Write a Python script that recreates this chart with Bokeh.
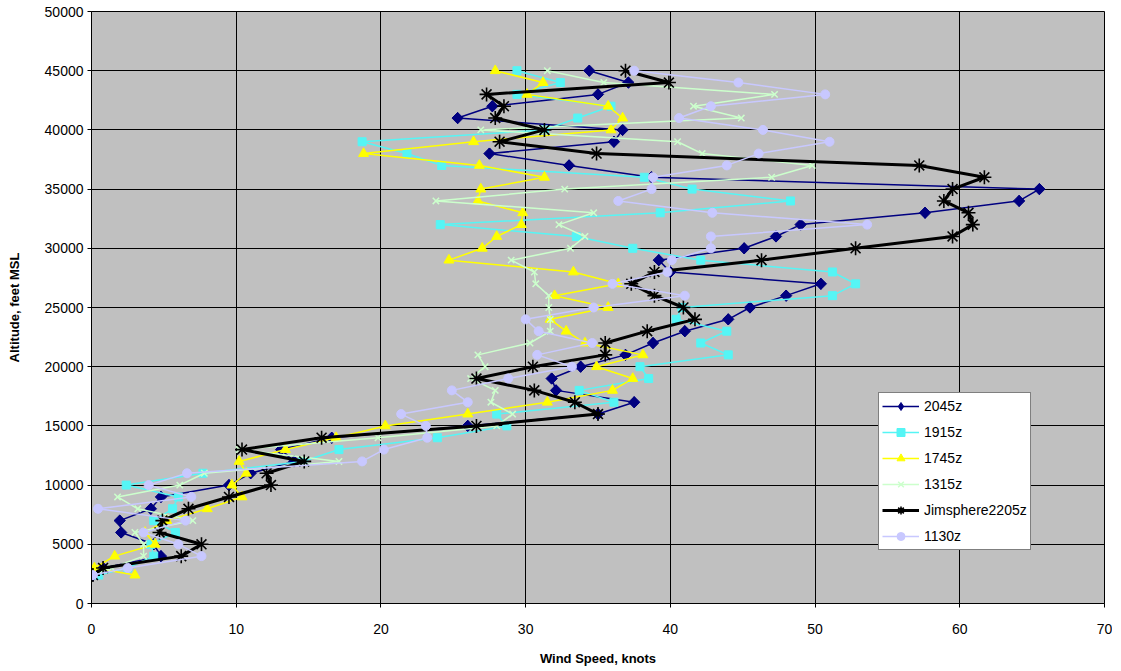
import math
from bokeh.plotting import figure
from bokeh.models import Legend, LegendItem, FixedTicker, ColumnDataSource
from bokeh.embed import file_html
from bokeh.resources import INLINE

altitude = [45000, 44000, 43000, 42000, 41000, 40000, 39000, 38000, 37000, 36000,
            35000, 34000, 33000, 32000, 31000, 30000, 29000, 28000, 27000, 26000,
            25000, 24000, 23000, 22000, 21000, 20000, 19000, 18000, 17000, 16000,
            15000, 14000, 13000, 12000, 11000, 10000, 9000, 8000, 7000, 6000,
            5000, 4000, 3000, 2400]

s2045z = [34.4, 37.1, 35.0, 27.7, 25.3, 36.7, 36.1, 27.5, 33.0, 38.7,
          65.5, 64.1, 57.6, 49.0, 47.3, 45.1, 39.2, 40.0, 50.4, 48.0,
          45.5, 44.0, 41.0, 38.8, 36.9, 33.8, 31.8, 32.1, 37.5, 35.0,
          26.0, 16.6, 13.1, 14.0, 11.0, 9.5, 4.8, 4.1, 1.95, 2.05,
          4.3, 4.8, 0.8, 0.1]
s1915z = [29.4, 32.4, 29.4, 35.9, 33.6, 31.3, 18.7, 21.8, 24.2, 38.2,
          41.5, 48.3, 39.3, 24.1, 33.5, 37.4, 42.1, 51.2, 52.8, 51.2,
          40.8, 40.4, 43.9, 42.1, 44.0, 37.9, 38.5, 33.7, 36.1, 28.0,
          28.7, 23.9, 17.1, 14.6, 7.7, 2.4, 6.0, 5.6, 4.3, 5.8,
          4.1, 4.3, 2.5, 0.5]
s1745z = [27.9, 31.2, 30.1, 35.7, 36.7, 35.9, 26.4, 18.8, 26.8, 31.3,
          26.9, 26.7, 29.8, 29.7, 28.0, 27.0, 24.7, 33.3, 36.4, 32.0,
          35.7, 31.7, 32.8, 34.1, 38.1, 34.9, 37.4, 36.0, 31.5, 26.0,
          20.3, 16.9, 13.4, 10.2, 10.7, 9.7, 10.4, 8.0, 5.2, 3.7,
          4.4, 1.6, 0.2, 3.0]
s1315z = [31.5, 35.4, 47.2, 41.6, 44.9, 26.9, 40.5, 42.2, 49.8, 47.0,
          32.7, 23.8, 34.7, 32.3, 34.1, 33.1, 29.0, 30.6, 30.7, 31.6,
          31.6, 31.7, 31.7, 30.3, 26.7, 27.2, 26.2, 27.9, 27.6, 29.1,
          28.0, 19.8, 10.2, 17.1, 7.8, 6.1, 1.8, 3.2, 7.0, 3.0,
          3.6, 3.6, 1.4, 0.1]
jimsphere2205z = [36.9, 39.9, 27.3, 28.5, 27.9, 31.3, 28.2, 34.9, 57.2, 61.7,
                  59.5, 58.9, 60.6, 60.9, 59.5, 52.8, 46.3, 38.9, 37.3, 38.9,
                  40.9, 41.7, 38.4, 35.5, 35.5, 30.5, 26.6, 30.6, 33.4, 35.0,
                  26.6, 15.9, 10.4, 14.7, 12.1, 12.4, 9.5, 6.7, 4.9, 4.7,
                  7.6, 6.2, 0.8, 0.1]
s1130z = [37.5, 44.7, 50.7, 42.8, 40.6, 46.4, 51.0, 46.1, 43.9, 38.8,
          38.7, 36.4, 42.9, 53.6, 42.8, 42.8, 40.1, 39.8, 36.0, 41.0,
          34.7, 30.0, 30.9, 34.6, 30.8, 33.2, 28.8, 24.9, 26.0, 21.4,
          23.1, 23.2, 20.2, 18.7, 6.6, 3.95, 6.9, 0.45, 6.5, 3.6,
          6.0, 7.6, 2.5, 0.1]

series_names = ["2045z", "1915z", "1745z", "1315z", "Jimsphere2205z", "1130z"]
series_values = [s2045z, s1915z, s1745z, s1315z, jimsphere2205z, s1130z]
x_ticks = [0, 10, 20, 30, 40, 50, 60, 70]
y_ticks = [0, 5000, 10000, 15000, 20000, 25000, 30000, 35000, 40000, 45000, 50000]

styles = [
    dict(color="#000080", marker="square", size=8, lw=1.5, fill=True, angle=math.pi / 4, mlw=1,
         legend_marker="diamond", legend_size=11),
    dict(color="#55F5F5", marker="square", size=8, lw=1.5, fill=True, angle=0, mlw=1),
    dict(color="#FFFF00", marker="triangle", size=10, lw=1.5, fill=True, angle=0, mlw=1),
    dict(color="#CCFFCC", marker="x", size=9, lw=1.5, fill=False, angle=0, mlw=1.5),
    dict(color="#000000", marker="asterisk", size=14, lw=3, fill=False, angle=0, mlw=1.6),
    dict(color="#C8C8FF", marker="circle", size=9, lw=1.5, fill=True, angle=0, mlw=1),
]

FONT = "Liberation Sans"

p = figure(width=1112, height=669, output_backend="svg", toolbar_location=None,
           x_range=(0, 70), y_range=(0, 50000),
           min_border_left=91, min_border_right=8, min_border_top=11, min_border_bottom=66)

p.background_fill_color = "#C0C0C0"
p.border_fill_color = "white"
p.outline_line_color = "#000000"
p.outline_line_width = 1

p.xgrid.grid_line_color = "black"
p.ygrid.grid_line_color = "black"
p.xgrid.grid_line_width = 1
p.ygrid.grid_line_width = 1

for ax in (p.xaxis[0], p.yaxis[0]):
    ax.major_label_text_font = FONT
    ax.major_label_text_font_size = "14px"
    ax.major_label_text_color = "black"
    ax.axis_label_text_font = FONT
    ax.axis_label_text_font_size = "13px"
    ax.axis_label_text_font_style = "bold"
    ax.axis_label_text_color = "black"
    ax.axis_line_color = "black"
    ax.major_tick_line_color = "black"
    ax.major_tick_out = 4
    ax.major_tick_in = 0
    ax.minor_tick_line_color = None

p.xaxis.ticker = FixedTicker(ticks=x_ticks)
p.yaxis.ticker = FixedTicker(ticks=y_ticks)
p.xaxis.axis_label = "Wind Speed, knots"
p.yaxis.axis_label = "Altitude, feet MSL"
p.xaxis.major_label_standoff = 16
p.xaxis.axis_label_standoff = 14
p.yaxis.major_label_standoff = 4
p.yaxis.axis_label_standoff = 20

items = []
for name, vals, st in zip(series_names, series_values, styles):
    src = ColumnDataSource(dict(x=vals, y=altitude))
    r1 = p.line("x", "y", source=src, line_color=st["color"], line_width=st["lw"])
    legend_renderers = [r1]
    if "legend_marker" in st:
        # upright diamond drawn beneath the rotated squares; used as the legend swatch
        r_leg = p.scatter("x", "y", source=src, marker=st["legend_marker"],
                          size=st["legend_size"], fill_color=st["color"],
                          line_color=st["color"])
        legend_renderers.append(r_leg)
    if st["fill"]:
        r2 = p.scatter("x", "y", source=src, marker=st["marker"], size=st["size"],
                       angle=st["angle"], fill_color=st["color"], line_color=st["color"],
                       line_width=st["mlw"])
    else:
        r2 = p.scatter("x", "y", source=src, marker=st["marker"], size=st["size"],
                       line_color=st["color"], line_width=st["mlw"])
    if "legend_marker" not in st:
        legend_renderers.append(r2)
    items.append(LegendItem(label=name, renderers=legend_renderers))

legend = Legend(items=items, location=(787, 53))
legend.label_text_font = FONT
legend.label_text_font_size = "14px"
legend.label_text_color = "black"
legend.glyph_width = 37
legend.glyph_height = 20
legend.label_height = 20
legend.spacing = 6
legend.padding = 3
legend.margin = 0
legend.label_standoff = 5
legend.border_line_color = "black"
legend.border_line_width = 1
legend.background_fill_color = "white"
legend.background_fill_alpha = 1
p.add_layout(legend)

open("out.html", "w").write(file_html(p, INLINE))
